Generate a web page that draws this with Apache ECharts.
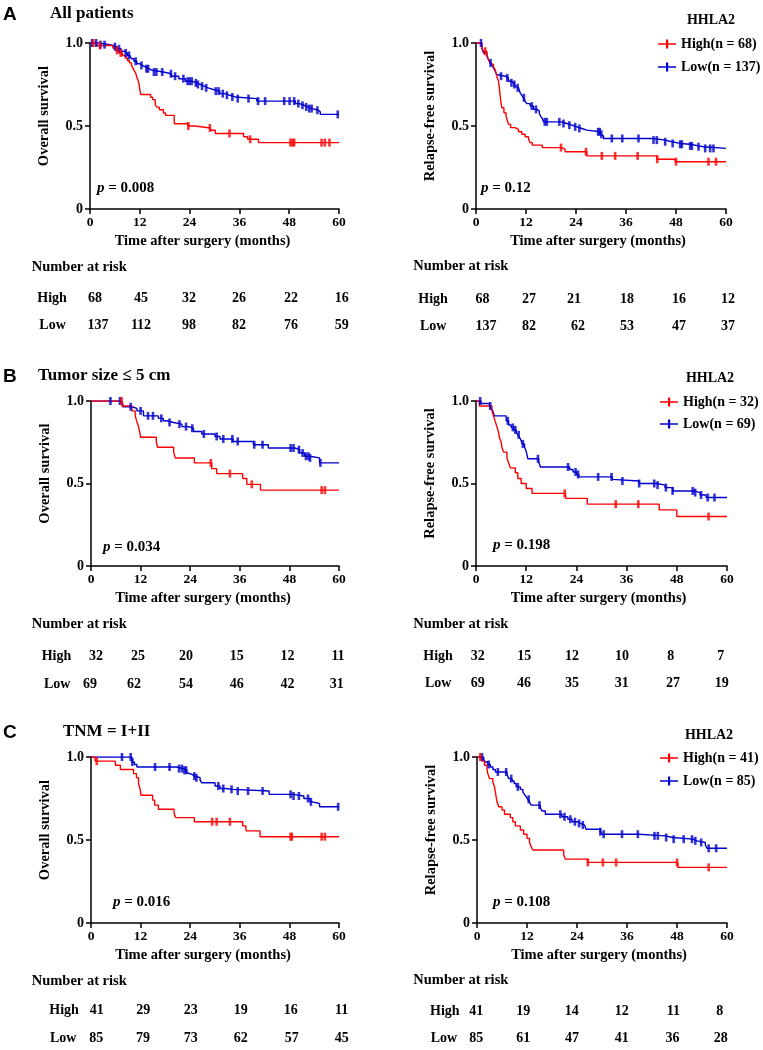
<!DOCTYPE html>
<html><head><meta charset="utf-8">
<script src="https://cdn.jsdelivr.net/npm/echarts@6/dist/echarts.min.js"></script>
<style>html,body{margin:0;padding:0;background:#fff}#c{width:763px;height:1050px}</style>
</head><body><div id="c"></div>
<script>
// ---------------- DATA ----------------
const timeTicks = [0, 12, 24, 36, 48, 60];
const groupNames = ['High', 'Low'];
const legendTitle = 'HHLA2';
const panelTitles = ['All patients', 'Tumor size \u2264 5 cm', 'TNM = I+II'];
const panelLetters = ['A', 'B', 'C'];
const legendLabelsA = ['High(n = 68)', 'Low(n = 137)'];
const legendLabelsB = ['High(n = 32)', 'Low(n = 69)'];
const legendLabelsC = ['High(n = 41)', 'Low(n = 85)'];
const pValues = ['0.008', '0.12', '0.034', '0.198', '0.016', '0.108'];

// Panel A, overall survival
const osA_high = [[0,1],[1.5,0.985],[5.5,0.97],[6.2,0.955],[7,0.94],[7.8,0.925],[8.5,0.91],[9,0.895],[9.5,0.88],[10,0.865],[10.3,0.85],[10.6,0.835],[11,0.82],[11.2,0.80],[11.5,0.78],[11.8,0.755],[12,0.72],[12.2,0.69],[14.6,0.673],[15.1,0.659],[15.7,0.629],[16.1,0.614],[16.7,0.598],[17.7,0.578],[18.2,0.564],[20.3,0.514],[23.7,0.50],[25.3,0.488],[29,0.474],[30.2,0.455],[37,0.435],[38,0.42],[40.6,0.40],[60,0.40]];
const osA_highCens = [0.8, 2.4, 6.5, 7.4, 23.7, 28.9, 33.6, 38.6, 48.3, 48.8, 49.2, 55.8, 56.6, 57.7];
const osA_low = [[0,1],[2,0.99],[4.8,0.978],[6.5,0.965],[7.5,0.95],[8.3,0.94],[9,0.925],[9.6,0.915],[10,0.905],[10.6,0.89],[11.3,0.875],[12,0.865],[12.6,0.855],[13.4,0.845],[14.2,0.835],[15,0.825],[17.7,0.815],[19.6,0.80],[21.4,0.785],[23,0.77],[24.6,0.76],[25.6,0.75],[26.6,0.74],[27.5,0.73],[28.5,0.72],[29.7,0.71],[31.3,0.695],[32.5,0.685],[33.7,0.675],[35,0.665],[40.2,0.65],[49.5,0.635],[50.5,0.625],[51.5,0.615],[52.5,0.605],[53.5,0.595],[55,0.585],[55.5,0.57],[60,0.57]];
const osA_lowCens = [0.5, 1.5, 2.5, 3.5, 6, 7, 8.6, 9.4, 11, 12.4, 13.6, 14, 15.4, 16, 17.4, 19.5, 20.5, 22.5, 23.5, 24, 24.5, 25.5, 26, 27, 28, 30.3, 31, 32, 33, 34.3, 35.6, 38.2, 40.5, 42.2, 46.8, 48.1, 49.2, 50.2, 51.2, 52.1, 52.8, 53.4, 54.8, 59.7];

// Panel A, relapse-free survival
const rfsA_high = [[0,1],[1.4,0.97],[1.8,0.95],[2.6,0.93],[3,0.90],[3.4,0.88],[3.8,0.87],[4.2,0.855],[4.6,0.84],[4.8,0.82],[5,0.80],[5.4,0.77],[5.6,0.73],[5.8,0.68],[6,0.64],[6.2,0.61],[6.7,0.58],[7.2,0.56],[7.5,0.535],[7.8,0.51],[8.3,0.49],[9.4,0.48],[10.2,0.465],[11,0.45],[11.8,0.435],[12.6,0.42],[13,0.40],[13.5,0.385],[15.9,0.37],[20.6,0.36],[21.4,0.345],[26.6,0.32],[43.4,0.30],[47.8,0.285],[60,0.285]];
const rfsA_highCens = [2.2, 20.4, 26.4, 30.2, 33.4, 38.8, 43.5, 48, 55.8, 57.6];
const rfsA_low = [[0,1],[1.4,0.97],[1.8,0.94],[2.6,0.92],[3,0.90],[3.4,0.88],[3.8,0.865],[4.2,0.85],[4.6,0.83],[5,0.81],[5.4,0.80],[7,0.79],[7.8,0.77],[8.4,0.76],[9,0.75],[9.4,0.74],[9.8,0.73],[10.2,0.72],[10.6,0.70],[11,0.685],[11.4,0.67],[11.8,0.65],[12.2,0.635],[13,0.62],[13.8,0.60],[14.6,0.59],[15.2,0.575],[15.5,0.56],[15.9,0.545],[16.2,0.525],[20.4,0.515],[21.8,0.505],[23,0.495],[24.2,0.485],[25.4,0.475],[26.6,0.465],[29.8,0.45],[30.2,0.44],[30.6,0.425],[42.6,0.415],[45.4,0.405],[47,0.395],[49,0.39],[51.4,0.38],[53.4,0.375],[54.6,0.365],[60,0.365]];
const rfsA_lowCens = [1.2, 3.5, 6, 7.5, 8.5, 9.2, 10, 11.5, 13.4, 14.4, 16.5, 17, 20, 21, 22.4, 23.8, 24.8, 29.3, 29.7, 30.1, 32.6, 35.1, 39, 42.6, 43.4, 45.4, 47.2, 49, 49.4, 51.4, 51.8, 53.4, 55, 56.2, 57];

// Panel B, overall survival
const osB_high = [[0,1],[7.5,0.97],[9.9,0.94],[10.7,0.91],[11.1,0.875],[11.5,0.845],[11.8,0.81],[12,0.78],[15.8,0.75],[16.1,0.72],[20,0.69],[20.4,0.655],[25,0.625],[29.2,0.59],[30.4,0.56],[36.7,0.53],[37.7,0.495],[41,0.46],[60,0.46]];
const osB_highCens = [7.4, 29, 33.6, 38.9, 55.8, 56.6];
const osB_low = [[0,1],[7.1,0.985],[7.7,0.965],[9.9,0.955],[11.1,0.94],[12.7,0.91],[16.3,0.895],[17.5,0.88],[18.3,0.87],[20,0.86],[22,0.845],[23.6,0.835],[24.8,0.815],[26.8,0.80],[30,0.785],[31.2,0.77],[34.4,0.755],[39.3,0.735],[42.9,0.715],[49.3,0.705],[50.5,0.685],[51.7,0.665],[52.9,0.655],[55.3,0.625],[60,0.625]];
const osB_lowCens = [4.7, 7, 9.6, 12, 13.8, 15, 17, 19, 21.4, 23, 24.5, 27.3, 30.4, 32, 34.2, 35.5, 39.5, 41.5, 48.3, 49, 50.3, 51.2, 52, 52.6, 53, 55.5];

// Panel B, relapse-free survival
const rfsB_high = [[0,1],[0.8,0.97],[3.8,0.94],[4.2,0.91],[4.6,0.875],[5,0.845],[5.4,0.81],[5.6,0.78],[6,0.75],[6.2,0.72],[6.6,0.69],[7.4,0.655],[7.8,0.625],[8.2,0.595],[9.4,0.565],[10,0.53],[10.8,0.50],[12,0.47],[13.4,0.44],[21.4,0.41],[26.6,0.375],[43.8,0.34],[48,0.30],[60,0.30]];
const rfsB_highCens = [21.2, 33.4, 38.8, 55.6];
const rfsB_low = [[0,1],[1.2,0.985],[3.2,0.97],[3.6,0.955],[4,0.94],[4.4,0.91],[7.2,0.88],[7.8,0.855],[8.4,0.84],[9,0.825],[9.6,0.81],[10,0.795],[10.4,0.78],[10.8,0.76],[11,0.74],[11.6,0.72],[12,0.695],[12.4,0.65],[15,0.63],[15.4,0.60],[22.4,0.585],[23.2,0.57],[24,0.555],[24.6,0.54],[32.6,0.525],[33,0.515],[39,0.50],[43.2,0.49],[45.2,0.475],[47,0.455],[52,0.445],[53.6,0.43],[55,0.415],[60,0.415]];
const rfsB_lowCens = [1, 3.4, 7.6, 8.8, 9.4, 10.2, 11.2, 14.8, 22, 23.8, 24.4, 29.2, 32.4, 35, 39, 42.6, 43.4, 45.4, 47, 51.8, 52.4, 53.8, 55.4, 57];

// Panel C, overall survival
const osC_high = [[0,1],[1,0.975],[5.9,0.95],[7.1,0.925],[10.3,0.90],[11,0.875],[11.5,0.84],[11.9,0.805],[12.1,0.77],[14.9,0.74],[15.4,0.71],[16.3,0.685],[20.1,0.66],[20.5,0.635],[25,0.61],[36.7,0.585],[37.5,0.555],[40.9,0.52],[60,0.52]];
const osC_highCens = [1.4, 29.3, 30.4, 33.6, 48.3, 48.6, 55.8, 56.6];
const osC_low = [[0,1],[9.9,0.97],[10.5,0.955],[11.1,0.94],[20.6,0.93],[22.4,0.92],[23.2,0.905],[23.6,0.895],[24.4,0.885],[25.2,0.875],[26.4,0.86],[26.8,0.845],[30,0.825],[31.2,0.81],[32.4,0.805],[34.4,0.795],[43.1,0.775],[48.9,0.765],[51.5,0.75],[53,0.73],[53.5,0.72],[55.3,0.70],[60,0.70]];
const osC_lowCens = [7.5, 9.6, 10, 15.5, 19, 21.3, 22, 22.6, 23, 25, 25.5, 30.8, 32, 34, 35.5, 38, 41.5, 48.3, 49, 50.3, 52.5, 53.2, 59.8];

// Panel C, relapse-free survival
const rfsC_high = [[0,1],[1.2,0.975],[1.8,0.95],[2.4,0.925],[2.6,0.90],[3,0.87],[3.8,0.85],[4.2,0.82],[4.4,0.79],[4.6,0.76],[4.8,0.73],[5.2,0.70],[6,0.68],[6.6,0.655],[8,0.635],[8.6,0.61],[9.2,0.585],[10.4,0.56],[11.2,0.535],[12,0.51],[12.6,0.485],[13,0.46],[13.4,0.44],[20.8,0.41],[21.2,0.385],[26.6,0.365],[48.2,0.335],[60,0.335]];
const rfsC_highCens = [0.8, 26.6, 30.2, 33.4, 48, 55.6];
const rfsC_low = [[0,1],[1.6,0.985],[2,0.97],[2.6,0.955],[3.2,0.94],[3.8,0.925],[4.4,0.91],[7.2,0.895],[7.6,0.87],[8.4,0.855],[8.9,0.84],[9.4,0.82],[10.4,0.805],[11,0.79],[11.4,0.775],[11.8,0.76],[12.2,0.745],[12.6,0.73],[13,0.71],[15.2,0.695],[15.6,0.675],[16.4,0.655],[20.4,0.64],[21.8,0.625],[22.8,0.61],[24,0.60],[24.8,0.59],[25.8,0.58],[26.2,0.565],[29.6,0.55],[30,0.535],[38.8,0.525],[45.2,0.515],[47,0.505],[51.8,0.495],[52.8,0.485],[54.8,0.47],[55.2,0.45],[60,0.45]];
const rfsC_lowCens = [1.2, 2.8, 5, 7, 8.2, 9.8, 12.4, 15, 20, 21, 22.4, 23.5, 24.5, 25.4, 29.6, 30.4, 34.8, 38.6, 42.6, 43.4, 45.4, 47.2, 49.6, 51.6, 52.4, 53.8, 55.6, 57.4];

// Numbers at risk
const riskA_os_high = [68, 45, 32, 26, 22, 16];
const riskA_os_low = [137, 112, 98, 82, 76, 59];
const riskA_rfs_high = [68, 27, 21, 18, 16, 12];
const riskA_rfs_low = [137, 82, 62, 53, 47, 37];
const riskB_os_high = [32, 25, 20, 15, 12, 11];
const riskB_os_low = [69, 62, 54, 46, 42, 31];
const riskB_rfs_high = [32, 15, 12, 10, 8, 7];
const riskB_rfs_low = [69, 46, 35, 31, 27, 19];
const riskC_os_high = [41, 29, 23, 19, 16, 11];
const riskC_os_low = [85, 79, 73, 62, 57, 45];
const riskC_rfs_high = [41, 19, 14, 12, 11, 8];
const riskC_rfs_low = [85, 61, 47, 41, 36, 28];

// ---------------- LAYOUT / STYLE ----------------
const FONT = '"Liberation Serif","Times New Roman",Times,serif';
const SANS = '"Liberation Sans",Arial,Helvetica,sans-serif';
const RED = '#ff0000', BLUE = '#0000cd';

const panels = [
  { grid:[90,43,249,166], yName:'Overall survival', high:osA_high, highC:osA_highCens, low:osA_low, lowC:osA_lowCens,
    names:['A-OS-High','A-OS-Low'], p:pValues[0], pPos:[97,188], xShift:24,
    riskH:riskA_os_high, riskL:riskA_os_low, nar:[31.7,267], rowH:[37.3,298.3], rowL:[39.3,325],
    colH:[95,141,189,239,291,341.7], colL:[98,141,189,239,291,341.7] },
  { grid:[476,43,250,166], yName:'Relapse-free survival', high:rfsA_high, highC:rfsA_highCens, low:rfsA_low, lowC:rfsA_lowCens,
    names:legendLabelsA, legend:[658,36,7], p:pValues[1], pPos:[481,188], xShift:6,
    riskH:riskA_rfs_high, riskL:riskA_rfs_low, nar:[413.3,266.7], rowH:[418.3,299], rowL:[420,326],
    colH:[482.5,529,574,627,679,728], colL:[486,529,578,627,679,728] },
  { grid:[91,401,248,165], yName:'Overall survival', high:osB_high, highC:osB_highCens, low:osB_low, lowC:osB_lowCens,
    names:['B-OS-High','B-OS-Low'], p:pValues[2], pPos:[103,547], xShift:24,
    riskH:riskB_os_high, riskL:riskB_os_low, nar:[31.7,624.3], rowH:[41.7,656.7], rowL:[44,684.3],
    colH:[96,138,186,236.7,287.5,338], colL:[90,134,186,236.7,287.5,336.7] },
  { grid:[476,401,251,165], yName:'Relapse-free survival', high:rfsB_high, highC:rfsB_highCens, low:rfsB_low, lowC:rfsB_lowCens,
    names:legendLabelsB, legend:[660,394,6], p:pValues[3], pPos:[493,545], xShift:6,
    riskH:riskB_rfs_high, riskL:riskB_rfs_low, nar:[413.3,624.3], rowH:[423.3,656.7], rowL:[425,683.3],
    colH:[477.7,524.3,572,622,670.7,720.7], colL:[477.7,524,572,621.7,673,721.7] },
  { grid:[91,757,248,166], yName:'Overall survival', high:osC_high, highC:osC_highCens, low:osC_low, lowC:osC_lowCens,
    names:['C-OS-High','C-OS-Low'], p:pValues[4], pPos:[113,902], xShift:24,
    riskH:riskC_os_high, riskL:riskC_os_low, nar:[31.7,981], rowH:[49.3,1010.7], rowL:[50,1038.3],
    colH:[96.7,143.3,190.8,240.8,290.8,341.7], colL:[96.3,143,190.8,240.8,291.7,341.7] },
  { grid:[477,757,250,166], yName:'Relapse-free survival', high:rfsC_high, highC:rfsC_highCens, low:rfsC_low, lowC:rfsC_lowCens,
    names:legendLabelsC, legend:[660,750,7], p:pValues[5], pPos:[493,902], xShift:6,
    riskH:riskC_rfs_high, riskL:riskC_rfs_low, nar:[413.3,980.7], rowH:[430,1011.7], rowL:[430.7,1038.3],
    colH:[476.3,523.3,571.7,621.7,673.3,719.7], colL:[476.3,523.3,572,621.7,672.5,720.7] }
];

const headers = [
  { letter:[3,15], title:[50,14], hhla:[711,20] },
  { letter:[3,377], title:[38,376], hhla:[710,378] },
  { letter:[3,733], title:[63,732], hhla:[709,735] }
];

function stepAt(curve, t) {
  let v = curve[0][1];
  for (const [x, y] of curve) { if (x <= t) v = y; else break; }
  return v;
}
function txt(x, y, text, font, align) {
  return { type:'text', x:x, y:y, silent:true,
    style:{ text:text, fill:'#000', font:font, align:align || 'left', verticalAlign:'middle' } };
}

const grids = [], xAxes = [], yAxes = [], series = [], legends = [], graphics = [];
const axisLineStyle = { color:'#000', width:1.5 };

panels.forEach((pn, i) => {
  grids.push({ left:pn.grid[0], top:pn.grid[1], width:pn.grid[2], height:pn.grid[3] });
  xAxes.push({
    gridIndex:i, type:'value', min:timeTicks[0], max:timeTicks[timeTicks.length-1], interval:12,
    name:'Time after surgery (months)', nameLocation:'middle', nameGap:25,
    nameTextStyle:{ fontFamily:FONT, fontWeight:'bold', fontSize:14.5, color:'#000', padding:[0,pn.xShift,0,0] },
    axisLine:{ show:true, lineStyle:axisLineStyle },
    axisTick:{ show:true, length:5, lineStyle:axisLineStyle },
    axisLabel:{ margin:7, fontFamily:FONT, fontWeight:'bold', fontSize:13.5, color:'#000' },
    splitLine:{ show:false }
  });
  yAxes.push({
    gridIndex:i, type:'value', min:0, max:1, interval:0.5,
    name:pn.yName, nameLocation:'middle', nameGap:38, nameRotate:90,
    nameTextStyle:{ fontFamily:FONT, fontWeight:'bold', fontSize:14.5, color:'#000', padding:[0,0,0,20] },
    axisLine:{ show:true, lineStyle:axisLineStyle },
    axisTick:{ show:true, length:5, lineStyle:axisLineStyle },
    axisLabel:{ margin:7, fontFamily:FONT, fontWeight:'bold', fontSize:14, color:'#000',
      formatter:v => v === 0 ? '0' : v.toFixed(1) },
    splitLine:{ show:false }
  });
  const groups = [
    { name:pn.names[1], curve:pn.low, cens:pn.lowC, color:BLUE },
    { name:pn.names[0], curve:pn.high, cens:pn.highC, color:RED }
  ];
  groups.forEach(g => {
    series.push({ type:'line', name:g.name, xAxisIndex:i, yAxisIndex:i, step:'end', data:g.curve,
      symbol:'none', showSymbol:false, lineStyle:{ color:g.color, width:1.4 }, itemStyle:{ color:g.color },
      animation:false, z:2 });
    series.push({ type:'scatter', name:g.name + ' censored', xAxisIndex:i, yAxisIndex:i,
      data:g.cens.map(t => [t, stepAt(g.curve, t)]),
      symbol:'rect', symbolSize:[2.6, 8], itemStyle:{ color:g.color }, silent:true, animation:false, z:3 });
  });
  if (pn.legend) {
    legends.push({ left:pn.legend[0], top:pn.legend[1], orient:'vertical', itemGap:pn.legend[2], padding:0,
      itemWidth:18, itemHeight:10, icon:'path://M0,4.3H18V5.7H0Z M8,0.5H10.2V9.5H8Z',
      data:[pn.names[0], pn.names[1]], selectedMode:false,
      textStyle:{ fontFamily:FONT, fontWeight:'bold', fontSize:14, color:'#000', lineHeight:16 } });
  }
  // p value
  graphics.push({ type:'text', x:pn.pPos[0], y:pn.pPos[1], silent:true,
    style:{ text:'{i|p} = ' + pn.p, fill:'#000', font:'bold 15px ' + FONT, align:'left', verticalAlign:'middle',
      rich:{ i:{ font:'italic bold 15px ' + FONT, fill:'#000' } } } });
  // numbers at risk table
  const tf = 'bold 14px ' + FONT;
  graphics.push(txt(pn.nar[0], pn.nar[1], 'Number at risk', 'bold 14.5px ' + FONT));
  graphics.push(txt(pn.rowH[0], pn.rowH[1], groupNames[0], tf));
  graphics.push(txt(pn.rowL[0], pn.rowL[1], groupNames[1], tf));
  pn.riskH.forEach((v, k) => graphics.push(txt(pn.colH[k], pn.rowH[1], String(v), tf, 'center')));
  pn.riskL.forEach((v, k) => graphics.push(txt(pn.colL[k], pn.rowL[1], String(v), tf, 'center')));
});

headers.forEach((h, k) => {
  graphics.push(txt(h.letter[0], h.letter[1], panelLetters[k], 'bold 19px ' + SANS));
  graphics.push(txt(h.title[0], h.title[1], panelTitles[k], 'bold 17px ' + FONT));
  graphics.push(txt(h.hhla[0], h.hhla[1], legendTitle, 'bold 14px ' + FONT, 'center'));
});

const chart = echarts.init(document.getElementById('c'), null, { renderer:'canvas' });
chart.setOption({
  animation:false,
  backgroundColor:'#fff',
  grid:grids, xAxis:xAxes, yAxis:yAxes, series:series, legend:legends,
  graphic:{ elements:graphics }
});
</script>
</body></html>
